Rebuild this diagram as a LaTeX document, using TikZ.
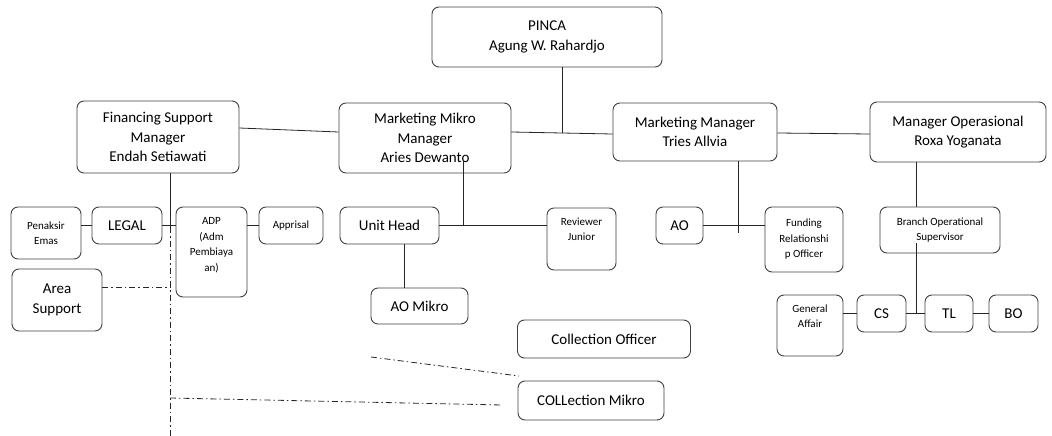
\documentclass[tikz,border=0pt]{standalone}
\usepackage{fontspec}
\setmainfont{Carlito}
\usetikzlibrary{positioning}

\tikzset{
  box/.style={draw=black!75, line width=0.9pt, rounded corners=7pt, align=center,
    inner sep=2pt, font=\fontsize{15}{19.5}\selectfont},
  smallbox/.style={box, font=\fontsize{11}{15.5}\selectfont},
  boxtext/.style={align=center, inner sep=0pt, font=\fontsize{11}{15.5}\selectfont},
  link/.style={draw=black!85, line width=0.8pt},
  dotlink/.style={link, dash pattern=on 6pt off 3pt on 1.5pt off 3pt},
}

\begin{document}
\begin{tikzpicture}[x=1pt, y=-1pt]
\useasboundingbox (0,0) rectangle (1052,436);

% top level
\node[box, minimum width=230pt, minimum height=60pt] (pinca) at (547,37) {PINCA\\Agung W. Rahardjo};
\node[box, minimum width=162pt, minimum height=72pt] (fin) at (158,137) {Financing Support\\Manager\\Endah Setiawati};
\node[box, minimum width=172pt, minimum height=70pt] (mmm) at (425,138) {Marketing Mikro\\Manager\\Aries Dewanto};
\node[box, minimum width=164pt, minimum height=58pt] (mm) at (695,132) {Marketing Manager\\Tries Allvia};
\node[box, minimum width=176pt, minimum height=60pt] (mo) at (958,132) {Manager Operasional\\Roxa Yoganata};

% financing support
\node[smallbox, minimum width=70pt, minimum height=52pt] (pen) at (46,233) {Penaksir\\Emas};
\node[box, minimum width=70pt, minimum height=37pt] (legal) at (127,225.5) {LEGAL};
\node[smallbox, minimum width=71pt, minimum height=90pt] (adp) at (211.5,252) {};
\node[boxtext, anchor=north] (adptext) at ([yshift=-11pt]adp.north) {ADP\\(Adm\\Pembiaya\\an)};
\node[smallbox, minimum width=64pt, minimum height=37pt] (appr) at (291,225.5) {Apprisal};
\node[box, minimum width=90pt, minimum height=62pt] (area) at (57,300) {Area\\Support};

% marketing mikro
\node[box, minimum width=99pt, minimum height=37pt] (uh) at (389.5,225.5) {Unit Head};
\node[smallbox, minimum width=69pt, minimum height=62pt] (rev) at (581.5,239) {};
\node[boxtext, anchor=north] (revtext) at ([yshift=-10pt]rev.north) {Reviewer\\Junior};
\node[box, minimum width=97pt, minimum height=36pt] (aom) at (419.5,306) {AO Mikro};
\node[box, minimum width=173pt, minimum height=38pt] (colo) at (604,339) {Collection Officer};
\node[box, minimum width=146pt, minimum height=39pt] (colm) at (591,400.5) {COLLection Mikro};

% marketing manager
\node[box, minimum width=47pt, minimum height=37pt] (ao) at (679.5,225.5) {AO};
\node[smallbox, minimum width=78pt, minimum height=65pt] (fro) at (804,239.5) {Funding\\Relationshi\\p Officer};

% operasional
\node[smallbox, minimum width=120pt, minimum height=46pt] (bos) at (940,230) {Branch Operational\\Supervisor};
\node[smallbox, minimum width=66pt, minimum height=61pt] (ga) at (810,325.5) {};
\node[boxtext, anchor=north] (gatext) at ([yshift=-10pt]ga.north) {General\\Affair};
\node[box, minimum width=49pt, minimum height=37pt] (cs) at (881.5,313.5) {CS};
\node[box, minimum width=48pt, minimum height=37pt] (tl) at (949,313.5) {TL};
\node[box, minimum width=49pt, minimum height=37pt] (bo) at (1013.5,313.5) {BO};

% free ends
\coordinate (jfin) at (170,227);
\coordinate (fbottom) at (170,436);
\coordinate (mmmfoot) at (463,160);
\coordinate (bosfoot) at (916,243);
\coordinate (colstart) at (371,357);
\coordinate (colend) at (519,376);
\coordinate (mikrostart) at (170,398);
\coordinate (mikroend) at (502,405);

% top connectors
\draw[link] ([xshift=15pt]pinca.south) -- ++(0,66);
\draw[link] ([yshift=9pt]fin.east) -- ([yshift=6pt]mmm.west);
\draw[link] ([yshift=6pt]mmm.east) -- ([yshift=-2pt]mm.west);
\draw[link] ([yshift=-1pt]mm.east) -- ([yshift=-2pt]mo.west);

% financing support links
\draw[link] ([xshift=12pt]fin.south) -- (jfin);
\draw[link] (legal.west) -- (legal.west -| pen.east);
\draw[link] (legal.east) -- (legal.east -| adp.west);
\draw[link] (appr.west) -- (appr.west -| adp.east);
\draw[dotlink] (jfin) -- (fbottom);
\draw[dotlink] ([yshift=13pt]area.east) -- ([yshift=13pt]area.east -| jfin);

% marketing mikro links
\draw[link] (mmmfoot) -- (mmmfoot |- uh.east);
\draw[link] (uh.east) -- (uh.east -| rev.west);
\draw[link] ([xshift=14.5pt]uh.south) -- ([xshift=14.5pt]uh.south |- aom.north);
\draw[dotlink] (colstart) -- (colend);
\draw[dotlink] (mikrostart) -- (mikroend);

% marketing manager links
\draw[link] ([xshift=43pt]mm.south) -- ++(0,72);
\draw[link] (ao.east) -- (ao.east -| fro.west);

% operasional links
\draw[link] ([xshift=-42pt]mo.south) -- ([xshift=-42pt]mo.south |- bos.north);
\draw[link] (bosfoot) -- (bosfoot |- cs.east);
\draw[link] (cs.west) -- (cs.west -| ga.east);
\draw[link] (cs) -- (tl);
\draw[link] (tl) -- (bo);
\end{tikzpicture}
\end{document}
